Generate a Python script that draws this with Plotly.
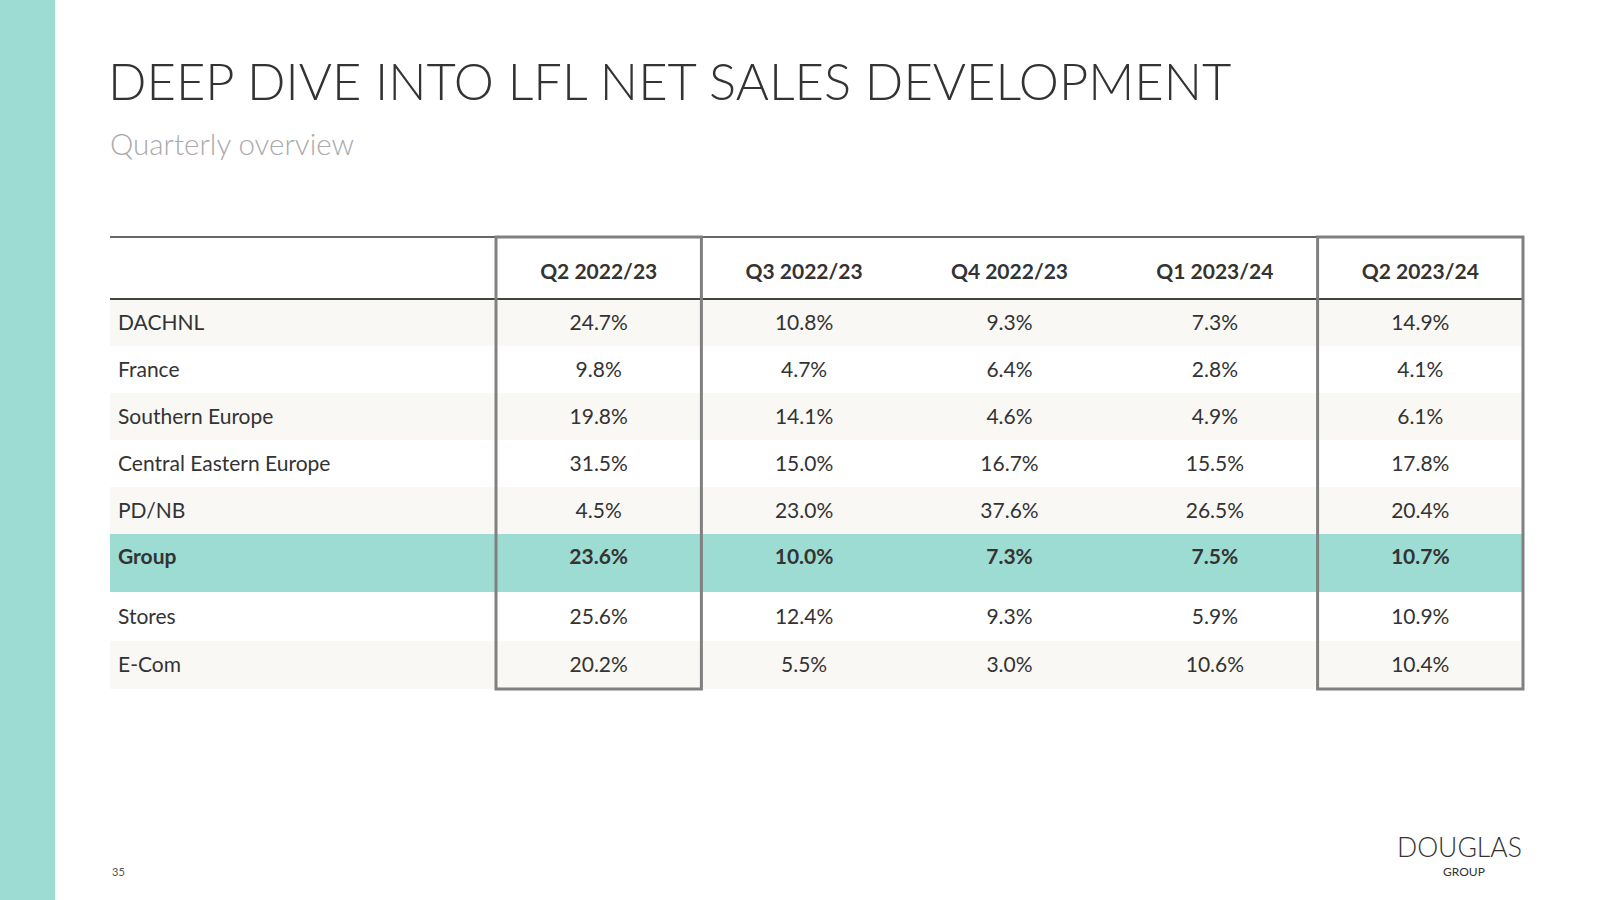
import plotly.graph_objects as go

# ---------------- data ----------------
quarters = ["Q2 2022/23", "Q3 2022/23", "Q4 2022/23", "Q1 2023/24", "Q2 2023/24"]
regions = ["DACHNL", "France", "Southern Europe", "Central Eastern Europe", "PD/NB",
           "Group", "Stores", "E-Com"]
q2_2022_23 = [24.7, 9.8, 19.8, 31.5, 4.5, 23.6, 25.6, 20.2]
q3_2022_23 = [10.8, 4.7, 14.1, 15.0, 23.0, 10.0, 12.4, 5.5]
q4_2022_23 = [9.3, 6.4, 4.6, 16.7, 37.6, 7.3, 9.3, 3.0]
q1_2023_24 = [7.3, 2.8, 4.9, 15.5, 26.5, 7.5, 5.9, 10.6]
q2_2023_24 = [14.9, 4.1, 6.1, 17.8, 20.4, 10.7, 10.9, 10.4]
series = [q2_2022_23, q3_2022_23, q4_2022_23, q1_2023_24, q2_2023_24]
highlight_row = "Group"
boxed_cols = ["Q2 2022/23", "Q2 2023/24"]

# ---------------- styling / layout ----------------
W, H = 1600, 900
TEAL = "#9ddcd3"
CREAM = "#f9f8f4"
TXT = "#333333"
FONT = "Lato"
tbl_x0, tbl_x1 = 110, 1523
lab_w = 386
col_w = (tbl_x1 - tbl_x0 - lab_w) / len(quarters)
tbl_y0 = 237
row_h = [62, 47, 47, 47, 47, 47, 58, 49, 48]   # header + rows
text_dy = {5: -6}                              # group row text offset (row index in regions)

# row boundaries
bounds = [tbl_y0]
for h in row_h:
    bounds.append(bounds[-1] + h)
tbl_y1 = bounds[-1]
hdr_c = (bounds[0] + bounds[1]) / 2 + 6
row_c = [(bounds[i + 1] + bounds[i + 2]) / 2 + 2 + text_dy.get(i, 0) for i in range(len(regions))]
col_c = [tbl_x0 + lab_w + col_w * (j + 0.5) for j in range(len(quarters))]
col_l = [tbl_x0 + lab_w + col_w * j for j in range(len(quarters))]

shapes = []
# left teal band
shapes.append(dict(type="rect", x0=0, x1=55, y0=0, y1=H, fillcolor=TEAL, line_width=0, layer="below"))
# row backgrounds
for i, r in enumerate(regions):
    if r == highlight_row:
        fill = TEAL
    elif i in (0, 2, 4, 7):
        fill = CREAM
    else:
        fill = None
    if fill:
        shapes.append(dict(type="rect", x0=tbl_x0, x1=tbl_x1, y0=bounds[i + 1], y1=bounds[i + 2],
                           fillcolor=fill, line_width=0, layer="below"))
# top line and header underline
shapes.append(dict(type="line", x0=tbl_x0, x1=tbl_x1, y0=tbl_y0, y1=tbl_y0,
                   line=dict(color="#333333", width=1.5)))
shapes.append(dict(type="line", x0=tbl_x0, x1=tbl_x1, y0=bounds[1], y1=bounds[1],
                   line=dict(color="#444444", width=2)))
# boxed columns
for q in boxed_cols:
    j = quarters.index(q)
    shapes.append(dict(type="rect", x0=col_l[j], x1=col_l[j] + col_w, y0=tbl_y0, y1=tbl_y1,
                       line=dict(color="#808080", width=3), fillcolor="rgba(0,0,0,0)"))

fig = go.Figure()

# header
fig.add_trace(go.Scatter(x=col_c, y=[hdr_c] * len(quarters), text=quarters, mode="text",
                         textposition="middle center",
                         textfont=dict(family=FONT, size=21, color=TXT, weight="bold"),
                         hoverinfo="skip", showlegend=False))

# row labels and values
for i, r in enumerate(regions):
    bold = r == highlight_row
    fw = "bold" if bold else "normal"
    fig.add_trace(go.Scatter(x=[tbl_x0 + 8], y=[row_c[i]], text=[r], mode="text",
                             textposition="middle right",
                             textfont=dict(family=FONT, size=21, color=TXT, weight=fw),
                             hoverinfo="skip", showlegend=False))
    vals = [f"{s[i]:.1f}%" for s in series]
    fig.add_trace(go.Scatter(x=col_c, y=[row_c[i]] * len(quarters), text=vals, mode="text",
                             textposition="middle center",
                             textfont=dict(family=FONT, size=21, color=TXT, weight=fw),
                             hoverinfo="skip", showlegend=False))

annotations = [
    dict(x=106, y=80, xref="x", yref="y", text="DEEP DIVE INTO LFL NET SALES DEVELOPMENT",
         showarrow=False, xanchor="left", yanchor="middle",
         font=dict(family=FONT, size=50.7, color="#333333", weight=300)),
    dict(x=108, y=143, xref="x", yref="y", text="Quarterly overview",
         showarrow=False, xanchor="left", yanchor="middle",
         font=dict(family=FONT, size=29.5, color="#aaaaaa", weight=300)),
    dict(x=110, y=871, xref="x", yref="y", text="35",
         showarrow=False, xanchor="left", yanchor="middle",
         font=dict(family=FONT, size=11, color="#555555")),
    dict(x=1524, y=847, xref="x", yref="y", text="DOUGLAS",
         showarrow=False, xanchor="right", yanchor="middle",
         font=dict(family=FONT, size=26.5, color="#333333", weight=300)),
    dict(x=1464, y=871, xref="x", yref="y", text="GROUP",
         showarrow=False, xanchor="center", yanchor="middle",
         font=dict(family=FONT, size=12, color="#333333")),
]

fig.update_layout(
    width=W, height=H, margin=dict(l=0, r=0, t=0, b=0),
    paper_bgcolor="white", plot_bgcolor="white",
    xaxis=dict(range=[0, W], visible=False, fixedrange=True),
    yaxis=dict(range=[H, 0], visible=False, fixedrange=True),
    shapes=shapes, annotations=annotations,
)

fig.write_html("out.html", config={"displayModeBar": False},
               post_script="document.body.style.margin='0';document.body.style.padding='0';")
